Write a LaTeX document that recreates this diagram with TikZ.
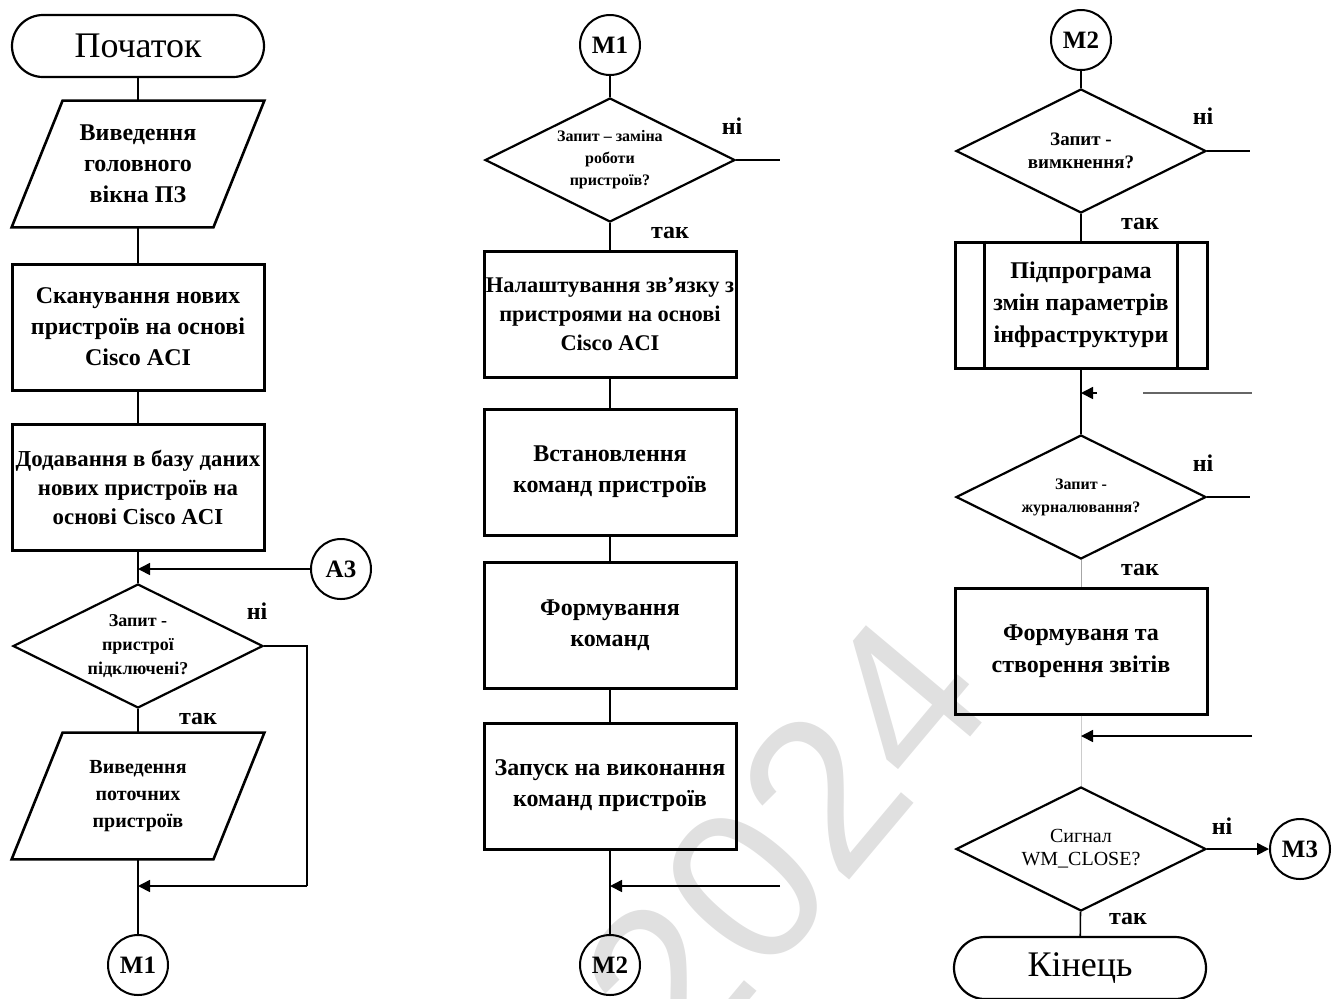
\documentclass[tikz,border=0pt]{standalone}
\usepackage{fontspec}
\setmainfont{Liberation Serif}
\newfontfamily\wmfont{Liberation Sans}
\usetikzlibrary{shapes.geometric,arrows.meta}
\begin{document}
\begin{tikzpicture}[x=0.5pt,y=-0.5pt,
  box/.style={draw, line width=1.5pt, minimum width=126pt, minimum height=63pt, inner sep=0pt, align=center, font=\fontsize{12}{15.5}\selectfont\bfseries},
  term/.style={draw, line width=1.1pt, rounded corners=15.5pt, minimum width=126pt, minimum height=31pt, inner sep=0pt, font=\fontsize{18}{20}\selectfont},
  iobox/.style={minimum width=126pt, minimum height=63pt, inner sep=0pt, align=center},
  para/.style={line width=1.3pt},
  dec/.style={draw, diamond, line width=1.1pt, minimum width=125pt, minimum height=62pt, inner sep=0pt, aspect=2},
  dectext/.style={align=center, inner sep=0pt},
  conn/.style={draw, circle, line width=1pt, minimum size=30pt, inner sep=0pt, font=\fontsize{12.5}{14}\selectfont\bfseries},
  line/.style={line width=0.8pt},
  faint/.style={line width=0.5pt, draw=black!35},
  arr/.style={line width=0.8pt, -{Triangle[length=6pt,width=6pt]}},
  lbl/.style={font=\fontsize{12}{14}\selectfont\bfseries, inner sep=0pt},
]
\useasboundingbox (0,0) rectangle (1344,998);
% watermark
\node[rotate=50, text=black!12, font=\wmfont\fontsize{110}{110}\selectfont, inner sep=0pt] (wm) at (785,840) {2024};

% ---------- column 1 ----------
\node[term] (start) at (138,46) {Початок};
\node[iobox, font=\fontsize{12}{15.5}\selectfont\bfseries] (p1) at (138,164) {Виведення\\головного\\вікна ПЗ};
\draw[para] ([xshift=25.5pt]p1.north west) -- (p1.north east) -- ([xshift=-25.5pt]p1.south east) -- (p1.south west) -- cycle;
\node[box] (r1) at (138,327) {Сканування нових\\пристроїв на основі\\Cisco ACI};
\node[box, font=\fontsize{11.4}{14.5}\selectfont\bfseries] (r2) at (138,487) {Додавання в базу даних\\нових пристроїв на\\основі Cisco ACI};
\node[dec] (d1) at (138,646) {};
\node[dectext, font=\fontsize{9}{12}\selectfont\bfseries] (d1t) at (138,646) {Запит -\\пристрої\\підключені?};
\node[iobox, font=\fontsize{10}{13.5}\selectfont\bfseries] (p2) at (138,796) {Виведення\\поточних\\пристроїв};
\draw[para] ([xshift=25.5pt]p2.north west) -- (p2.north east) -- ([xshift=-25.5pt]p2.south east) -- (p2.south west) -- cycle;
\node[conn] (m1a) at (138,965) {М1};
\node[conn] (a3) at (341,569) {А3};
\coordinate (j1) at (138,569);
\coordinate (k1) at (307,646);
\coordinate (k2) at (307,886);
\coordinate (j2) at (138,886);

\draw[line] (start) -- (p1);
\draw[line] (p1) -- (r1);
\draw[line] (r1) -- (r2);
\draw[line] (r2) -- (d1);
\draw[arr] (a3) -- (j1);
\draw[line] (d1) -- (p2);
\draw[line] (p2) -- (m1a);
\draw[line] (d1.east) -- (k1) -- (k2);
\draw[arr] (k2) -- (j2);
\node[lbl] (n1) at (257,611) {ні};
\node[lbl] (y1) at (198,719) {так};

% ---------- column 2 ----------
\node[conn] (m1b) at (610,45) {М1};
\node[dec] (d2) at (610,160) {};
\node[dectext, font=\fontsize{8}{11}\selectfont\bfseries] (d2t) at (610,160) {Запит – заміна\\роботи\\пристроїв?};
\node[box, font=\fontsize{11.2}{14.5}\selectfont\bfseries] (r3) at (610,314) {Налаштування зв’язку з\\пристроями на основі\\Cisco ACI};
\node[box] (r4) at (610,472) {Встановлення\\команд пристроїв};
\node[box] (r5) at (610,625) {Формування\\команд};
\node[box] (r6) at (610,786) {Запуск на виконання\\команд пристроїв};
\node[conn] (m2a) at (610,965) {М2};
\coordinate (e2) at (780,160);
\coordinate (k3) at (780,886);
\coordinate (j3) at (610,886);

\draw[line] (m1b) -- (d2);
\draw[line] (d2.east) -- (e2);
\draw[line] (d2) -- (r3);
\draw[line] (r3) -- (r4);
\draw[line] (r4) -- (r5);
\draw[line] (r5) -- (r6);
\draw[line] (r6) -- (m2a);
\draw[arr] (k3) -- (j3);
\node[lbl] (n2) at (732,126) {ні};
\node[lbl] (y2) at (670,233) {так};

% ---------- column 3 ----------
\node[conn] (m2b) at (1081,40) {М2};
\node[dec] (d3) at (1081,151) {};
\node[dectext, font=\fontsize{9.5}{11.5}\selectfont\bfseries] (d3t) at (1081,151) {Запит -\\вимкнення?};
\node[box, font=\fontsize{12}{16}\selectfont\bfseries] (s1) at (1081,305) {Підпрограма\\змін параметрів\\інфраструктури};
\draw[line width=1.2pt] ([xshift=15.5pt]s1.north west) -- ([xshift=15.5pt]s1.south west);
\draw[line width=1.5pt] ([xshift=-15.5pt]s1.north east) -- ([xshift=-15.5pt]s1.south east);
\node[dec] (d4) at (1081,497) {};
\node[dectext, font=\fontsize{8}{11.5}\selectfont\bfseries] (d4t) at (1081,497) {Запит -\\журналювання?};
\node[box, font=\fontsize{12}{16}\selectfont\bfseries] (r7) at (1081,651) {Формуваня та\\створення звітів};
\node[dec] (d5) at (1081,849) {};
\node[dectext, font=\fontsize{10}{11.5}\selectfont] (d5t) at (1081,849) {Сигнал\\WM\_CLOSE?};
\node[conn] (m3) at (1300,849) {М3};
\node[term] (end) at (1080,968) {Кінець};
\coordinate (e3) at (1250,151);
\coordinate (e4) at (1250,497);
\coordinate (j4) at (1081,393);
\coordinate (t4) at (1097,393);
\coordinate (g4a) at (1143,393);
\coordinate (g4b) at (1252,393);
\coordinate (j5) at (1081,736);
\coordinate (k5) at (1252,736);

\draw[line] (m2b) -- (d3);
\draw[line] (d3.east) -- (e3);
\draw[line] (d3) -- (s1);
\draw[line] (s1) -- (d4);
\draw[arr] (t4) -- (j4);
\draw[line, draw=black!60] (g4a) -- (g4b);
\draw[line] (d4.east) -- (e4);
\draw[faint] (d4) -- (r7);
\draw[faint, draw=black!20] (r7) -- (d5);
\draw[arr] (k5) -- (j5);
\draw[arr] (d5.east) -- (m3);
\draw[line] (d5) -- (end);
\node[lbl] (n3) at (1203,116) {ні};
\node[lbl] (y3) at (1140,224) {так};
\node[lbl] (n4) at (1203,463) {ні};
\node[lbl] (y4) at (1140,570) {так};
\node[lbl] (n5) at (1222,826) {ні};
\node[lbl] (y5) at (1128,919) {так};
\end{tikzpicture}
\end{document}
